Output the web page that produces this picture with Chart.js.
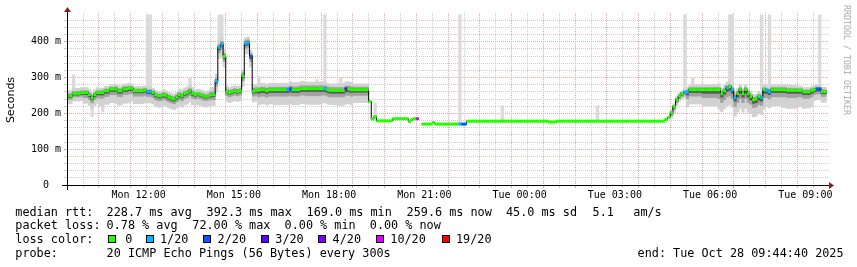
<!DOCTYPE html>
<html><head><meta charset="utf-8">
<script src="https://cdn.jsdelivr.net/npm/chart.js@4"></script>
<style>
html,body{margin:0;padding:0;background:#fff;}
#wrap{position:relative;width:857px;height:267px;overflow:hidden;background:#fff;}
canvas{position:absolute;left:0;top:0;}
.t{position:absolute;font-family:'DejaVu Sans Mono',monospace;font-size:11.8px;line-height:14px;white-space:pre;color:#000;}
.box{position:absolute;width:6px;height:6px;border:1px solid #000;}
#ylab{position:absolute;left:-19px;top:93px;width:60px;height:14px;line-height:14px;text-align:center;transform:rotate(-90deg);font-family:'DejaVu Sans',sans-serif;font-size:11px;white-space:nowrap;color:#000;}
#wm{position:absolute;left:792px;top:55px;width:110px;height:10px;line-height:10px;text-align:center;transform:rotate(90deg);font-family:'DejaVu Sans Mono',monospace;font-size:8.3px;color:#aaa;white-space:nowrap;}
</style></head>
<body>
<div id="wrap">
<canvas id="c" width="857" height="267"></canvas>
<div id="ylab">Seconds</div>
<div id="wm">RRDTOOL / TOBI OETIKER</div>
<div id="legend"></div>
</div>
<script>
// ---------- data ----------
const T0 = 35080;          // Mon 09:44:40 (seconds since Mon 00:00)
const STEP = 300;          // one sample every 300 s
const SPAN = 86400;

// median rtt in ms, one value per 300 s step (12 per hour)
const median = [
  249,249,256,256,256,258,258,258,252,243,252,258,
  258,258,263,263,268,268,268,263,263,268,268,270,
  270,263,263,263,263,265,261,261,258,252,249,249,
  252,249,245,242,240,245,252,249,255,258,263,256,
  252,254,252,249,247,249,252,252,290,384,393,359,
  261,258,261,263,261,263,305,395,397,359,262,264,
  264,266,266,263,266,266,266,266,266,266,266,266,
  268,266,266,266,269,269,269,269,269,269,269,269,
  269,269,266,264,264,264,264,264,264,268,268,266,
  266,266,266,266,266,266,233,184,191,179,179,179,
  179,179,179,185,185,185,185,185,185,177,183,185,
  185,null,170,170,170,170,174,170,170,170,170,170,
  170,170,170,170,170,170,170,178,178,178,178,178,
  178,178,178,178,178,178,178,178,178,178,178,178,
  178,178,178,178,178,178,178,178,178,178,178,178,
  178,178,176,176,176,178,178,178,178,178,178,178,
  178,178,178,178,178,178,178,178,178,178,178,178,
  178,178,178,178,178,178,178,178,178,178,178,178,
  178,178,178,178,178,178,178,178,178,178,183,189,
  202,219,238,249,255,259,259,266,266,266,266,266,
  266,266,266,266,266,266,266,255,263,271,274,266,
  244,255,266,255,266,255,247,238,240,247,244,266,
  264,260,266,266,266,266,266,266,264,264,264,264,
  264,264,260,260,260,264,266,268,268,261,261,null
];

// [sample index, lost pings out of 20]
const lossEvents = [[30,1],[31,1],[56,1],[57,1],[58,1],[67,1],[68,1],[69,2],[83,1],[84,2],
  [97,1],[105,3],[132,10],[148,1],[149,2],[150,2],[233,1],[234,1],[249,1],[251,1],[252,1],
  [262,1],[264,1],[265,1],[283,2],[284,2]];

const lossLevels = [0, 1, 2, 3, 4, 10, 19];
const lossLabels = ['0', '1/20', '2/20', '3/20', '4/20', '10/20', '19/20'];

// smoke spread around the median (ms), one value per half hour
const smokeOuterUp   = [14,14,12,14,12,12,14,16,14,20,14,16,18,18,20,18,18,20,16,0,
                        0,0,0,0,0,0,0,0,0,0,0,0,0,0,0,0,0,0,8,14,14,16,14,14,14,14,12,12];
const smokeOuterDown = [22,30,38,40,36,32,30,32,30,30,28,30,40,42,42,44,40,42,36,0,
                        0,0,0,0,0,0,0,0,0,0,0,0,0,0,0,0,0,0,16,40,45,50,52,48,45,50,45,30];
const smokeMidUp     = [5,5,5,6,5,5,6,6,5,8,6,8,7,7,8,8,8,8,7,0,
                        0,0,0,0,0,0,0,0,0,0,0,0,0,0,0,0,0,0,3,6,6,6,6,6,6,6,5,5];
const smokeMidDown   = [10,14,16,16,15,14,13,14,12,14,12,14,18,18,18,20,18,18,16,0,
                        0,0,0,0,0,0,0,0,0,0,0,0,0,0,0,0,0,0,8,18,22,25,25,22,20,20,18,14];
const smokeInnerUp   = [2,2,2,3,2,2,3,3,2,3,3,3,3,3,3,3,3,3,3,0,
                        0,0,0,0,0,0,0,0,0,0,0,0,0,0,0,0,0,0,2,3,3,3,3,3,3,3,2,2];
const smokeInnerDown = [5,6,7,7,6,6,6,6,5,6,5,6,8,8,8,8,8,8,7,0,
                        0,0,0,0,0,0,0,0,0,0,0,0,0,0,0,0,0,0,4,8,10,10,10,10,8,8,8,6];

// single ping outliers: [sample index, low ms, high ms]
const spikes = [[2,250,308],[9,191,250],[13,205,258],[30,261,475],[31,261,475],[46,263,299],
  [57,384,475],[58,393,475],[72,264,303],[94,269,294],[97,269,475],[103,264,300],
  [116,179,229],[148,170,475],[164,178,221],[200,178,221],[233,259,475],[236,266,300],
  [246,210,266],[250,266,475],[251,244,475],[258,210,247],[262,266,475],[263,210,266],
  [265,266,475],[278,213,260],[284,268,475]];

const xTickTimes  = [43200, 54000, 64800, 75600, 86400, 97200, 108000, 118800];
const xTickLabels = ['Mon 12:00','Mon 15:00','Mon 18:00','Mon 21:00','Tue 00:00','Tue 03:00','Tue 06:00','Tue 09:00'];
const yTickValues = [0, 100, 200, 300, 400];
const yTickLabels = ['0  ', '100 m', '200 m', '300 m', '400 m'];

// ---------- styles ----------
const lossColors = ['#26ff00','#00b8ff','#0059ff','#5e00ff','#7e00ff','#dd00ff','#ff0000'];
const MAJOR = '#e9a3a3', MINOR = '#cdcdcd';
const MONO = "'DejaVu Sans Mono', monospace";

const lossAt = median.map(() => 0);
lossEvents.forEach(([i, n]) => { lossAt[i] = n; });
function lossColor(n) {
  let k = 0;
  lossLevels.forEach((lv, j) => { if (n >= lv) k = j; });
  return lossColors[k];
}
const tAt = i => T0 + STEP * i + STEP / 2;
const block = i => Math.floor(i / 6);

function smoke(up, down) {
  const out = [];
  median.forEach((m, i) => {
    const b = block(i);
    if (m == null || (up[b] === 0 && down[b] === 0)) return;
    out.push({x: tAt(i), y: [m - down[b], m + up[b]]});
  });
  return out;
}

const barCommon = {type: 'bar', barPercentage: 1, categoryPercentage: 1, grouped: false, borderWidth: 0};

const datasets = [
  Object.assign({}, barCommon, {label: 'spikes', order: 6, backgroundColor: '#dadada',
    data: spikes.map(([i, lo, hi]) => ({x: tAt(i), y: [lo, hi]}))}),
  Object.assign({}, barCommon, {label: 'outer', order: 5, backgroundColor: '#d2d2d2',
    data: smoke(smokeOuterUp, smokeOuterDown)}),
  Object.assign({}, barCommon, {label: 'mid', order: 4, backgroundColor: '#a2a2a2',
    data: smoke(smokeMidUp, smokeMidDown)}),
  Object.assign({}, barCommon, {label: 'inner', order: 3, backgroundColor: '#585858',
    data: smoke(smokeInnerUp, smokeInnerDown)}),
  {type: 'line', label: 'median', order: 2, stepped: 'middle', borderColor: '#000', borderWidth: 1,
    pointRadius: 0, spanGaps: false, data: median.map((m, i) => ({x: tAt(i), y: m}))},
  {type: 'line', label: 'loss', order: 1, showLine: false, pointStyle: 'line', pointRadius: 1.45,
    pointBorderWidth: 3, pointHoverRadius: 1.45,
    pointBorderColor: ctx => lossColor(lossAt[ctx.dataIndex]),
    data: median.map((m, i) => ({x: tAt(i), y: m}))}
];

const xGrid = [];
for (let v = Math.ceil(T0 / 1800) * 1800; v <= T0 + SPAN; v += 1800) xGrid.push(v);
const yGrid = [];
for (let v = 0; v <= 460; v += 20) yGrid.push(v);

const axesPlugin = {
  id: 'axes',
  afterDraw(chart) {
    const ctx = chart.ctx, a = chart.chartArea;
    ctx.save();
    ctx.strokeStyle = '#000';
    ctx.lineWidth = 1;
    ctx.beginPath();
    ctx.moveTo(a.left - 5, Math.round(a.bottom) + 0.5);
    ctx.lineTo(a.right + 3, Math.round(a.bottom) + 0.5);
    ctx.moveTo(Math.round(a.left) + 0.5, a.bottom + 5);
    ctx.lineTo(Math.round(a.left) + 0.5, a.top - 3);
    ctx.stroke();
    ctx.fillStyle = '#8b1c1c';
    const by = Math.round(a.bottom) + 0.5, lx = Math.round(a.left) + 0.5;
    ctx.beginPath();
    ctx.moveTo(a.right, by - 3.5); ctx.lineTo(a.right + 5, by); ctx.lineTo(a.right, by + 3.5);
    ctx.closePath(); ctx.fill();
    ctx.beginPath();
    ctx.moveTo(lx - 3.5, a.top - 1); ctx.lineTo(lx, a.top - 6); ctx.lineTo(lx + 3.5, a.top - 1);
    ctx.closePath(); ctx.fill();
    ctx.restore();
  }
};

new Chart(document.getElementById('c'), {
  type: 'bar',
  data: {datasets},
  options: {
    responsive: false, animation: false, devicePixelRatio: 1,
    layout: {padding: {left: 0, right: 28, top: 13, bottom: 62}},
    plugins: {legend: {display: false}, tooltip: {enabled: false}},
    scales: {
      x: {
        type: 'linear', min: T0, max: T0 + SPAN, offset: false,
        afterBuildTicks: s => { s.ticks = xGrid.map(v => ({value: v})); },
        afterFit: s => { s.height = 20; },
        grid: {color: c => (c.tick && c.tick.value % 3600 === 0) ? MAJOR : MINOR,
               tickColor: c => (c.tick && c.tick.value % 3600 === 0) ? MAJOR : MINOR,
               tickLength: 3, lineWidth: 1},
        border: {display: false, dash: [1, 1]},
        ticks: {autoSkip: false, maxRotation: 0, minRotation: 0, padding: 1, color: '#000',
                font: {family: MONO, size: 10},
                callback: v => { const k = xTickTimes.indexOf(v); return k >= 0 ? xTickLabels[k] : ''; }}
      },
      y: {
        min: 0, max: 480,
        afterBuildTicks: s => { s.ticks = yGrid.map(v => ({value: v})); },
        afterFit: s => { s.width = 67; },
        grid: {color: c => (c.tick && c.tick.value % 100 === 0) ? MAJOR : MINOR,
               tickColor: c => (c.tick && c.tick.value % 100 === 0) ? MAJOR : MINOR,
               tickLength: 3, lineWidth: 1},
        border: {display: false, dash: [1, 1]},
        ticks: {autoSkip: false, padding: 3, color: '#000', font: {family: MONO, size: 10},
                callback: v => { const k = yTickValues.indexOf(v); return k >= 0 ? yTickLabels[k] : ''; }}
      }
    }
  },
  plugins: [axesPlugin]
});

// ---------- text legend ----------
const rows = [
  [204.7, [[15.3,'median rtt:'],[106.6,'228.7 ms avg'],[206.6,'392.3 ms max'],[306.6,'169.0 ms min'],
           [406.6,'259.6 ms now'],[506,'45.0 ms sd'],[592.6,'5.1'],[633.3,'am/s']]],
  [218, [[15.3,'packet loss:'],[106.6,'0.78 % avg'],[192.3,'72.00 % max'],[284.6,'0.00 % min'],[369.8,'0.00 % now']]],
  [232.3, [[15.3,'loss color:']]],
  [245.7, [[15.3,'probe:'],[106.6,'20 ICMP Echo Pings (56 Bytes) every 300s'],[637.6,'end: Tue Oct 28 09:44:40 2025']]]
];
const boxX = [108.3, 146, 203.3, 261, 318.3, 376, 442.3];
const labX = [125.3, 160, 217.6, 275.3, 332.6, 390.3, 456];
const lg = document.getElementById('legend');
rows.forEach(([top, items]) => items.forEach(([x, s]) => {
  const d = document.createElement('div'); d.className = 't';
  d.style.left = x + 'px'; d.style.top = top + 'px'; d.textContent = s; lg.appendChild(d);
}));
lossLabels.forEach((s, k) => {
  const b = document.createElement('div'); b.className = 'box';
  b.style.left = Math.round(boxX[k]) + 'px'; b.style.top = '235px'; b.style.background = lossColors[k];
  lg.appendChild(b);
  const d = document.createElement('div'); d.className = 't';
  d.style.left = labX[k] + 'px'; d.style.top = '232.3px'; d.textContent = s; lg.appendChild(d);
});
</script>
</body></html>
